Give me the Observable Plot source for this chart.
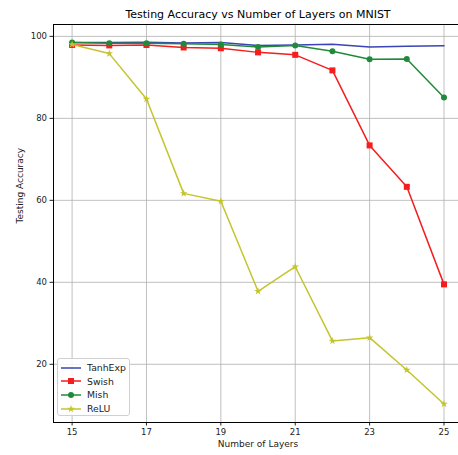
<!DOCTYPE html>
<html>
<head>
<meta charset="utf-8">
<script src="https://cdn.jsdelivr.net/npm/d3@7"></script>
<script src="https://cdn.jsdelivr.net/npm/@observablehq/plot@0.6"></script>
<style>
  html, body { margin: 0; padding: 0; background: #fff; overflow: hidden; }
  #wrap { position: relative; width: 458px; height: 455px; font-family: "DejaVu Sans", sans-serif; }
  #legend { position: absolute; left: 57px; top: 358px; width: 73px; height: 58px; box-sizing: border-box;
    border: 1px solid #d0d0d0; border-radius: 3px; background: rgba(255,255,255,0.85); padding: 2px 0 0 2px; }
  .row { display: flex; align-items: center; height: 13.6px; font-size: 9.3px; color: #222; }
  .row svg { margin-right: 5px; }
</style>
</head>
<body>
<div id="wrap"></div>
<script>
const title = "Testing Accuracy vs Number of Layers on MNIST";
const xLabel = "Number of Layers";
const yLabel = "Testing Accuracy";
const layers = [15, 16, 17, 18, 19, 20, 21, 22, 23, 24, 25];
const xTicks = [15, 17, 19, 21, 23, 25];
const yTicks = [20, 40, 60, 80, 100];
const seriesNames = ["TanhExp", "Swish", "Mish", "ReLU"];
const tanhexp = [98.5, 98.5, 98.6, 98.4, 98.5, 97.8, 97.9, 98.1, 97.4, 97.6, 97.7];
const swish   = [97.9, 97.8, 97.9, 97.3, 97.1, 96.1, 95.5, 91.7, 73.4, 63.3, 39.5];
const mish    = [98.5, 98.3, 98.3, 98.2, 98.0, 97.4, 97.8, 96.4, 94.4, 94.5, 85.1];
const relu    = [98.0, 95.8, 84.7, 61.7, 59.8, 37.8, 43.8, 25.7, 26.5, 18.6, 10.3];
const colors  = ["#3a44b4", "#f51d1d", "#218a3a", "#c4c42e"];
const symbols = [null, "square", "circle", "star"];
const xDomain = [14.5, 25.39];
const yDomain = [5.8, 102.9];

const values = [tanhexp, swish, mish, relu];
const series = seriesNames.map((name, i) => ({
  name, color: colors[i], symbol: symbols[i],
  data: layers.map((x, j) => ({x, y: values[i][j]}))
}));
const symR = {square: 3.4, circle: 3.0, star: 2.4};

const marks = [
  Plot.gridX(xTicks, {stroke: "#b0b0b0", strokeOpacity: 1, strokeWidth: 0.8}),
  Plot.gridY(yTicks, {stroke: "#b0b0b0", strokeOpacity: 1, strokeWidth: 0.8}),
  Plot.axisX(xTicks, {tickSize: 3.5, tickPadding: 3, fontSize: 8.5, label: null, tickFormat: d => String(d)}),
  Plot.axisY(yTicks, {tickSize: 3.5, tickPadding: 3, fontSize: 8.5, label: null, tickFormat: d => String(d)}),
];
for (const s of series) {
  marks.push(Plot.line(s.data, {x: "x", y: "y", stroke: s.color, strokeWidth: 1.5}));
  if (s.symbol) {
    marks.push(Plot.dot(s.data, {x: "x", y: "y", symbol: s.symbol, r: symR[s.symbol], fill: s.color, stroke: "none"}));
  }
}
// spines: left, top, bottom (right spine lies outside the picture)
marks.push(Plot.ruleX([xDomain[0]], {stroke: "#000", strokeWidth: 1}));
marks.push(Plot.ruleY([yDomain[0], yDomain[1]], {stroke: "#000", strokeWidth: 1}));
marks.push(Plot.text([title], {frameAnchor: "top", dy: -10, dx: 2, fontSize: 11, fill: "#000", lineAnchor: "middle"}));
marks.push(Plot.text([xLabel], {frameAnchor: "bottom", dy: 22, dx: 2, fontSize: 9, fill: "#222", lineAnchor: "middle"}));
marks.push(Plot.text([yLabel], {frameAnchor: "left", dx: -33, rotate: -90, fontSize: 9, fill: "#222"}));

const chart = Plot.plot({
  width: 458, height: 455,
  marginLeft: 53, marginRight: 0, marginTop: 24, marginBottom: 33,
  x: {domain: xDomain},
  y: {domain: yDomain},
  style: {fontFamily: "DejaVu Sans", fontSize: "8.5px", color: "#222", background: "#fff"},
  marks
});
const wrap = document.getElementById("wrap");
wrap.appendChild(chart);

// legend
const legend = document.createElement("div");
legend.id = "legend";
for (const s of series) {
  const row = document.createElement("div");
  row.className = "row";
  const ns = "http://www.w3.org/2000/svg";
  const svg = document.createElementNS(ns, "svg");
  svg.setAttribute("width", 22); svg.setAttribute("height", 10);
  const ln = document.createElementNS(ns, "line");
  ln.setAttribute("x1", 1); ln.setAttribute("x2", 21); ln.setAttribute("y1", 5); ln.setAttribute("y2", 5);
  ln.setAttribute("stroke", s.color); ln.setAttribute("stroke-width", 1.5);
  svg.appendChild(ln);
  if (s.symbol) {
    const p = document.createElementNS(ns, "path");
    const sym = {square: d3.symbolSquare, circle: d3.symbolCircle, star: d3.symbolStar}[s.symbol];
    const r = symR[s.symbol];
    p.setAttribute("d", d3.symbol(sym, Math.PI * r * r)());
    p.setAttribute("transform", "translate(11,5)");
    p.setAttribute("fill", s.color);
    svg.appendChild(p);
  }
  row.appendChild(svg);
  const t = document.createElement("span");
  t.textContent = s.name;
  row.appendChild(t);
  legend.appendChild(row);
}
wrap.appendChild(legend);
</script>
</body>
</html>
